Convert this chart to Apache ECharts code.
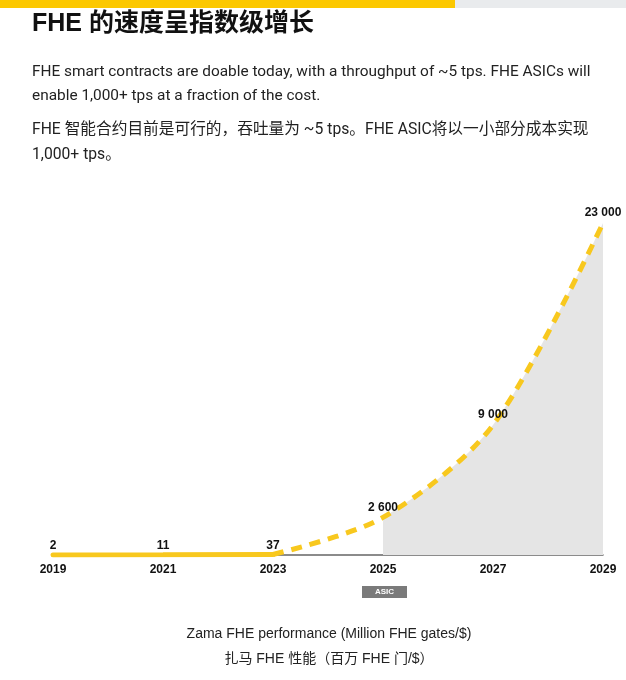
<!DOCTYPE html>
<html><head><meta charset="utf-8">
<script src="https://cdn.jsdelivr.net/npm/echarts@6/dist/echarts.min.js"></script>
<style>html,body{margin:0;padding:0;background:#fff}#c{width:626px;height:680px}</style>
</head><body><div id="c"></div>
<script>
var years = ['2019', '2021', '2023', '2025', '2027', '2029'];
var measuredValues = [2, 11, 37, null, null, null];
var projectedValues = [null, null, 37, 2600, 9000, 23000];
var titleText = 'FHE 的速度呈指数级增长';
var paraLines = [
  'FHE smart contracts are doable today, with a throughput of ~5 tps. FHE ASICs will',
  'enable 1,000+ tps at a fraction of the cost.',
  'FHE 智能合约目前是可行的，吞吐量为 ~5 tps。FHE ASIC将以一小部分成本实现',
  '1,000+ tps。'
];
var captionLines = ['Zama FHE performance (Million FHE gates/$)', '扎马 FHE 性能（百万 FHE 门/$）'];
var areaLabel = 'FHE mass\nadoption';
var asicLabel = 'ASIC';

var FONT = "'Liberation Sans', 'Noto Sans CJK SC', sans-serif";
var PFONT = "Roboto, 'Noto Sans CJK SC', sans-serif";
var YELLOW = '#f8c81e';
function fmt(v){ return String(v).replace(/\B(?=(\d{3})+(?!\d))/g, ' '); }

var chart = echarts.init(document.getElementById('c'));
var paraY = [72, 96, 130, 155];
var paraSize = [15.4, 15.4, 15.7, 15.7];
var graphics = [
  {type:'rect', left:0, top:0, shape:{width:455, height:8}, style:{fill:'#fcc800'}},
  {type:'rect', left:455, top:0, shape:{width:171, height:8}, style:{fill:'#e9ebed'}},
  {type:'text', x:32, y:24, style:{text:titleText, font:"bold 25px "+FONT, fill:'#111', verticalAlign:'middle'}}
];
paraLines.forEach(function(t,i){
  graphics.push({type:'text', x:32, y:paraY[i], style:{text:t, font:paraSize[i]+"px "+PFONT, fill:'#222', verticalAlign:'middle'}});
});
captionLines.forEach(function(t,i){
  graphics.push({type:'text', x:329, y:[634,659][i], style:{text:t, font:"14px "+FONT, fill:'#222', align:'center', verticalAlign:'middle'}});
});
graphics.push({type:'text', x:519, y:494, style:{text:areaLabel, font:"13px "+FONT, fill:'#555', align:'center', verticalAlign:'middle', lineHeight:16}});
graphics.push({type:'group', left:362, top:586, children:[
  {type:'rect', shape:{x:0,y:0,width:45,height:12}, style:{fill:'#7a7a7a'}},
  {type:'text', x:22.5, y:6, style:{text:asicLabel, font:"bold 8px "+FONT, fill:'#fff', align:'center', verticalAlign:'middle'}}
]});

chart.setOption({
  animation:false,
  grid:{left:53, right:23, top:223, bottom:125},
  xAxis:{type:'category', data:years, boundaryGap:false,
    axisLine:{lineStyle:{color:'#666', width:1.5}}, axisTick:{show:false},
    axisLabel:{color:'#111', fontWeight:'bold', fontSize:12, fontFamily:FONT, margin:9}, splitLine:{show:false}},
  yAxis:{type:'value', min:0, max:23000, show:false, splitLine:{show:false}},
  graphic:graphics,
  series:[
    {type:'line', data:projectedValues, smooth:0.3, symbol:'circle', symbolSize:0, z:3,
      lineStyle:{color:YELLOW, width:5, type:[11,8]},
      itemStyle:{color:YELLOW},
      areaStyle:{opacity:1, color:new echarts.graphic.LinearGradient(0,0,1,0,[
        {offset:0, color:'rgba(229,229,229,0)'},{offset:0.3333, color:'rgba(229,229,229,0)'},
        {offset:0.3334, color:'#e5e5e5'},{offset:1, color:'#e5e5e5'}])},
      label:{show:true, position:'top', distance:4, color:'#111', fontWeight:'bold', fontSize:12, fontFamily:FONT,
        formatter:function(p){ return p.dataIndex===2 ? '' : fmt(p.value); }}
    },
    {type:'line', data:measuredValues, symbol:'circle', symbolSize:0, z:4,
      lineStyle:{color:YELLOW, width:5, cap:'round'}, itemStyle:{color:YELLOW},
      label:{show:true, position:'top', distance:3, color:'#111', fontWeight:'bold', fontSize:12, fontFamily:FONT,
        formatter:function(p){ return fmt(p.value); }}
    }
  ]
});
</script></body></html>
